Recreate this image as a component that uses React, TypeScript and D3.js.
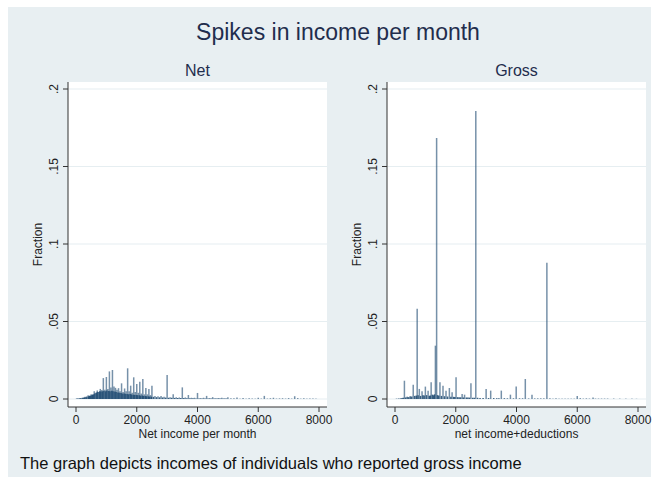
import React from "react";
import * as d3 from "d3";

const chartTitle = "Spikes in income per month";
const panelTitles = ["Net", "Gross"];
const xTitles = ["Net income per month", "net income+deductions"];
const yTitle = "Fraction";
const note = "The graph depicts incomes of individuals who reported gross income";
const xTicks = [0, 2000, 4000, 6000, 8000];
const yTicks = [0, 0.05, 0.1, 0.15, 0.2];
const yTickLabels = ["0", ".05", ".1", ".15", ".2"];

// [income, fraction] - Net income per month
const netMajor: [number, number][] = [
  [300, 0.0015], [400, 0.0025], [500, 0.003], [600, 0.005], [650, 0.004], [700, 0.0055], [750, 0.0045],
  [800, 0.0065], [850, 0.0058], [900, 0.0135], [950, 0.006], [1000, 0.0142], [1050, 0.0065], [1100, 0.0178],
  [1150, 0.0075], [1200, 0.0187], [1250, 0.008], [1300, 0.0072], [1350, 0.006], [1400, 0.007], [1450, 0.005],
  [1500, 0.0101], [1550, 0.0045], [1600, 0.0068], [1650, 0.005], [1700, 0.0198], [1750, 0.005], [1800, 0.0086],
  [1850, 0.004], [1900, 0.014], [1950, 0.0045], [2000, 0.0097], [2050, 0.004], [2100, 0.0112], [2150, 0.0035],
  [2200, 0.0129], [2250, 0.003], [2300, 0.0071], [2350, 0.003], [2400, 0.0065], [2450, 0.0025], [2500, 0.0086],
  [2600, 0.002], [2700, 0.0018], [2800, 0.002], [2900, 0.0015], [3000, 0.0155], [3100, 0.0012], [3200, 0.003],
  [3300, 0.0012], [3400, 0.001], [3500, 0.0075], [3600, 0.001], [3700, 0.0026], [3800, 0.0008], [3900, 0.0008],
  [4000, 0.0039], [4100, 0.0006], [4200, 0.0008], [4300, 0.002], [4400, 0.0006], [4500, 0.0012], [4600, 0.0005],
  [4700, 0.0006], [4800, 0.0008], [4900, 0.0005], [5000, 0.0012], [5200, 0.0005], [5300, 0.001], [5500, 0.0006],
  [5700, 0.0005], [5800, 0.0004], [6000, 0.0008], [6200, 0.002], [6400, 0.0005], [6500, 0.0008], [6700, 0.0004],
  [6800, 0.0005], [7000, 0.0006], [7200, 0.0018], [7300, 0.0006], [7500, 0.0005], [7700, 0.0004], [7800, 0.0003],
];

const netMinor: [number, number][] = [
  [20, 0.0003], [60, 0.0004], [110, 0.0005], [160, 0.0006], [210, 0.0008], [250, 0.0009], [280, 0.001],
  [330, 0.0012], [360, 0.0016], [420, 0.0018], [450, 0.002], [470, 0.0022], [520, 0.0025], [550, 0.0028],
  [570, 0.003], [620, 0.0035], [680, 0.0042], [720, 0.0045], [780, 0.005], [820, 0.0048], [870, 0.005],
  [920, 0.0052], [980, 0.005], [1020, 0.0055], [1080, 0.0052], [1120, 0.005], [1180, 0.0054], [1220, 0.005],
  [1280, 0.0048], [1320, 0.0045], [1380, 0.0042], [1420, 0.004], [1480, 0.0038], [1520, 0.0036], [1580, 0.0035],
  [1620, 0.0034], [1680, 0.0032], [1720, 0.003], [1780, 0.0032], [1820, 0.003], [1880, 0.0028], [1920, 0.0027],
  [1980, 0.0026], [2020, 0.0025], [2080, 0.0024], [2120, 0.0022], [2180, 0.0022], [2220, 0.002], [2280, 0.0019],
  [2320, 0.0018], [2380, 0.0017], [2420, 0.0016], [2480, 0.0015], [2550, 0.0014], [2650, 0.0012], [2750, 0.0011],
  [2850, 0.001], [2950, 0.0009], [3050, 0.0008], [3150, 0.0008], [3250, 0.0007], [3350, 0.0007], [3450, 0.0006],
  [3550, 0.0006], [3650, 0.0005], [3750, 0.0005], [3850, 0.0005], [3950, 0.0004], [4050, 0.0004], [4150, 0.0004],
  [4250, 0.0004], [4350, 0.0003], [4450, 0.0003], [4550, 0.0003], [4650, 0.0003], [4750, 0.0003], [4850, 0.0003],
  [4950, 0.0003], [5100, 0.0003], [5400, 0.0002], [5600, 0.0002], [5900, 0.0002], [6100, 0.0002], [6300, 0.0002],
  [6600, 0.0002], [6900, 0.0002], [7100, 0.0002], [7400, 0.0002], [7600, 0.0002], [7900, 0.0002],
];

// [income, fraction] - Gross (net income + deductions)
const grossMajor: [number, number][] = [
  [310, 0.0118], [600, 0.0092], [730, 0.0583], [800, 0.0065], [890, 0.005], [1000, 0.008], [1090, 0.0054],
  [1190, 0.0108], [1330, 0.0344], [1370, 0.1684], [1480, 0.0108], [1580, 0.0086], [1680, 0.0054], [1790, 0.0071],
  [1880, 0.0043], [2010, 0.014], [2210, 0.0032], [2290, 0.0028], [2500, 0.0101], [2660, 0.1858], [3000, 0.0065],
  [3150, 0.0054], [3500, 0.0054], [3800, 0.0028], [3990, 0.008], [4290, 0.0129], [4510, 0.0028], [5000, 0.0879],
  [6000, 0.002], [6520, 0.001],
];

const grossMinor: [number, number][] = [
  [50, 0.0002], [120, 0.0003], [180, 0.0004], [230, 0.0006], [270, 0.0008], [350, 0.001], [400, 0.0015],
  [450, 0.0012], [500, 0.0018], [550, 0.0016], [650, 0.002], [700, 0.0022], [760, 0.0025], [840, 0.002],
  [920, 0.0024], [960, 0.0022], [1040, 0.0025], [1130, 0.002], [1160, 0.0022], [1230, 0.0028], [1270, 0.0024],
  [1300, 0.003], [1400, 0.0025], [1440, 0.0022], [1530, 0.002], [1630, 0.0018], [1730, 0.0016], [1840, 0.0015],
  [1930, 0.0014], [1970, 0.0013], [2060, 0.0012], [2110, 0.0012], [2160, 0.0011], [2250, 0.001], [2350, 0.001],
  [2400, 0.0009], [2450, 0.0009], [2560, 0.0008], [2610, 0.0008], [2720, 0.0008], [2800, 0.0007], [2900, 0.0007],
  [3080, 0.0006], [3250, 0.0006], [3350, 0.0005], [3420, 0.0005], [3600, 0.0005], [3700, 0.0004], [3900, 0.0004],
  [4100, 0.0004], [4200, 0.0004], [4400, 0.0003], [4600, 0.0003], [4700, 0.0003], [4800, 0.0003], [4900, 0.0003],
  [5100, 0.0003], [5200, 0.0002], [5300, 0.0003], [5400, 0.0002], [5500, 0.0002], [5600, 0.0002], [5700, 0.0002],
  [5800, 0.0002], [5900, 0.0002], [6100, 0.0004], [6200, 0.0002], [6300, 0.0003], [6400, 0.0002], [6600, 0.0002],
  [6700, 0.0002], [6800, 0.0002], [6900, 0.0002], [7000, 0.0002], [7200, 0.0002], [7400, 0.0002], [7600, 0.0002],
  [7800, 0.0002], [7950, 0.0001],
];

const W = 659;
const H = 484;
const FONT = "'Liberation Sans', Arial, Helvetica, sans-serif";
const NAVY = "#1a476f";

const panels = [
  { left: 68, right: 327, title: panelTitles[0], xTitle: xTitles[0], minor: netMinor, major: netMajor },
  { left: 387, right: 646, title: panelTitles[1], xTitle: xTitles[1], minor: grossMinor, major: grossMajor },
];
const plotTop = 82;
const plotBottom = 407;

function Panel({ p }: { p: typeof panels[number] }) {
  const x = d3.scaleLinear().domain([0, 8000]).range([p.left + 8, p.right - 8]);
  const y = d3.scaleLinear().domain([0, 0.2]).range([plotBottom - 8, plotTop + 7]);
  const cx = (p.left + p.right) / 2;
  const cy = (plotTop + plotBottom) / 2;
  return (
    <g>
      <rect x={p.left} y={plotTop} width={p.right - p.left} height={plotBottom - plotTop} fill="#ffffff" />
      {yTicks.map((t) => (
        <line key={"g" + t} x1={p.left} x2={p.right} y1={y(t)} y2={y(t)} stroke="#e6eef1" strokeWidth={1.2} />
      ))}
      {p.minor.map(([v, f], i) => (
        <line key={"m" + i} x1={x(v)} x2={x(v)} y1={y(0)} y2={y(f)} stroke={NAVY} strokeWidth={1.5} strokeOpacity={0.85} />
      ))}
      {p.major.map(([v, f], i) => (
        <line key={"M" + i} x1={x(v)} x2={x(v)} y1={y(0)} y2={y(f)} stroke={NAVY} strokeWidth={1.5} strokeOpacity={0.6} />
      ))}
      <line x1={p.left} x2={p.left} y1={plotTop} y2={plotBottom} stroke="#333" strokeWidth={1} />
      <line x1={p.left} x2={p.right} y1={plotBottom} y2={plotBottom} stroke="#333" strokeWidth={1} />
      {yTicks.map((t, i) => (
        <g key={"y" + t}>
          <line x1={p.left - 5} x2={p.left} y1={y(t)} y2={y(t)} stroke="#333" />
          <text
            transform={`translate(${p.left - 10},${y(t)}) rotate(-90)`}
            textAnchor="middle"
            fontSize={12}
            fill="#222"
            fontFamily={FONT}
          >
            {yTickLabels[i]}
          </text>
        </g>
      ))}
      {xTicks.map((t) => (
        <g key={"x" + t}>
          <line x1={x(t)} x2={x(t)} y1={plotBottom} y2={plotBottom + 5} stroke="#333" />
          <text x={x(t)} y={plotBottom + 17} textAnchor="middle" fontSize={12} fill="#222" fontFamily={FONT}>
            {t}
          </text>
        </g>
      ))}
      <text x={cx} y={plotBottom + 31} textAnchor="middle" fontSize={12} fill="#222" fontFamily={FONT}>
        {p.xTitle}
      </text>
      <text
        transform={`translate(${p.left - 26},${cy}) rotate(-90)`}
        textAnchor="middle"
        fontSize={12}
        fill="#222"
        fontFamily={FONT}
      >
        {yTitle}
      </text>
      <text x={cx} y={plotTop - 6} textAnchor="middle" fontSize={16} fill="#1f2d4d" fontFamily={FONT}>
        {p.title}
      </text>
    </g>
  );
}

export default function App() {
  return (
    <svg width={W} height={H} style={{ position: "absolute", left: 0, top: 0 }}>
      <rect x={0} y={0} width={W} height={H} fill="#ffffff" />
      <rect x={8} y={7} width={643} height={470} fill="#e8eff2" />
      <text x={338} y={40} textAnchor="middle" fontSize={23} fill="#1f2d4d" fontFamily={FONT}>
        {chartTitle}
      </text>
      {panels.map((p) => (
        <Panel key={p.title} p={p} />
      ))}
      <text x={20} y={469} fontSize={16.5} fill="#111" fontFamily={FONT}>
        {note}
      </text>
    </svg>
  );
}
